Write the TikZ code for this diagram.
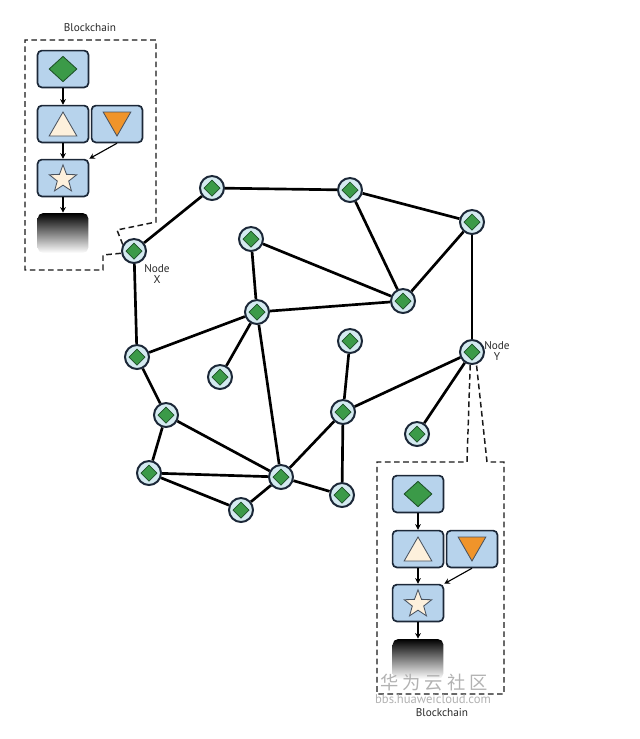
\documentclass[tikz,border=0pt]{standalone}
\usepackage{fontspec}
\setmainfont{PT Sans}
\newfontfamily\cjkfont{Noto Sans CJK SC}
\usepackage{tikz}
\usetikzlibrary{shapes.geometric, arrows.meta}
\definecolor{blockblue}{RGB}{183, 211, 236}
\definecolor{navyline}{RGB}{28, 40, 56}
\definecolor{peerfill}{RGB}{212, 234, 240}
\definecolor{gemgreen}{RGB}{59, 154, 72}
\definecolor{gemdark}{RGB}{30, 80, 40}
\definecolor{creamfill}{RGB}{253, 240, 220}
\definecolor{orangefill}{RGB}{240, 148, 42}
\definecolor{markgray}{RGB}{178, 178, 178}
\definecolor{labelgray}{RGB}{40, 40, 40}

\begin{document}
\begin{tikzpicture}[
    x=0.025cm, y=-0.025cm,
    peer/.style={circle, draw=navyline, line width=1.4pt, fill=peerfill, minimum size=0.6cm, inner sep=0pt,
        path picture={\draw[gemdark, line width=0.5pt, fill=gemgreen] (path picture bounding box.center) +(0.2cm,0) -- +(0,0.2cm) -- +(-0.2cm,0) -- +(0,-0.2cm) -- cycle;}},
    link/.style={line width=1.9pt, black},
    callout/.style={dashed, dash pattern=on 4pt off 2.5pt, line width=1.05pt, black!90},
    block/.style={rectangle, rounded corners=3pt, draw=navyline, line width=1.2pt, fill=blockblue, minimum width=1.27cm, minimum height=0.92cm, inner sep=0pt},
    tailbox/.style={rectangle, rounded corners=4pt, minimum width=1.27cm, minimum height=1cm, top color=black, bottom color=white, inner sep=0pt},
    gem/.style={diamond, draw=gemdark, line width=0.6pt, fill=gemgreen, minimum width=0.7cm, minimum height=0.64cm, inner sep=0pt},
    uptri/.style={regular polygon, regular polygon sides=3, draw=navyline!80, line width=0.6pt, fill=creamfill, minimum size=0.8cm, inner sep=0pt},
    downtri/.style={regular polygon, regular polygon sides=3, shape border rotate=180, draw=navyline!80, line width=0.6pt, fill=orangefill, minimum size=0.8cm, inner sep=0pt},
    startok/.style={star, star points=5, star point ratio=2.4, draw=navyline!80, line width=0.6pt, fill=creamfill, minimum size=0.72cm, inner sep=0pt},
    arrow/.style={-{Stealth[length=4pt, width=4pt]}, line width=0.8pt, black},
    tag/.style={font=\fontsize{8}{8.5}\selectfont, text=labelgray, align=center, inner sep=0pt}
]
\useasboundingbox (0,0) rectangle (640,739);

% Peer network
\node[peer] (p1) at (212,188) {};
\node[peer] (p2) at (350,190) {};
\node[peer] (p3) at (472,222) {};
\node[peer] (nodex) at (134,251) {};
\node[peer] (p4) at (251,239) {};
\node[peer] (p5) at (403,301) {};
\node[peer] (p6) at (257,312) {};
\node[peer] (p9) at (350,341) {};
\node[peer] (nodey) at (472,352) {};
\node[peer] (p7) at (137,357) {};
\node[peer] (p8) at (220,377) {};
\node[peer] (p11) at (343,412) {};
\node[peer] (p10) at (166,415) {};
\node[peer] (p16) at (417,434) {};
\node[peer] (p12) at (149,473) {};
\node[peer] (p13) at (281,477) {};
\node[peer] (p14) at (342,495) {};
\node[peer] (p15) at (241,510) {};

\node[tag] (xlabel) at (157,274) {Node\\X};
\node[tag] (ylabel) at (497,351) {Node\\Y};

% Links
\draw[link] (p1) -- (p2);
\draw[link] (p1) -- (nodex);
\draw[link] (p2) -- (p3);
\draw[link] (p2) -- (p5);
\draw[link] (p3) -- (p5);
\draw[link] (p3) -- (nodey);
\draw[link] (p4) -- (p5);
\draw[link] (p4) -- (p6);
\draw[link] (nodex) -- (p7);
\draw[link] (p7) -- (p6);
\draw[link] (p6) -- (p8);
\draw[link] (p6) -- (p5);
\draw[link] (p6) -- (p13);
\draw[link] (p7) -- (p10);
\draw[link] (p10) -- (p13);
\draw[link] (p10) -- (p12);
\draw[link] (p12) -- (p13);
\draw[link] (p12) -- (p15);
\draw[link] (p15) -- (p13);
\draw[link] (p13) -- (p11);
\draw[link] (p11) -- (p9);
\draw[link] (p11) -- (nodey);
\draw[link] (p11) -- (p14);
\draw[link] (p13) -- (p14);
\draw[link] (nodey) -- (p16);

% Blockchain of Node X
\node[block] (gemA) at (63,69) {};
\node[gem] at (gemA) {};
\node[block] (triA) at (63,124) {};
\node[uptri] at ([yshift=-0.1cm]triA.center) {};
\node[block] (dropA) at (117,124) {};
\node[downtri] at ([yshift=0.1cm]dropA.center) {};
\node[block] (starA) at (63,178) {};
\node[startok] at ([yshift=-0.03cm]starA.center) {};
\node[tailbox] (tailA) at (63,233) {};
\draw[arrow] (gemA) -- (triA);
\draw[arrow] (triA) -- (starA);
\draw[arrow] (dropA.south) -- (starA.north east);
\draw[arrow] (starA) -- (tailA);
\draw[callout] (nodex.150) -- (117,230) -- (156,222) -- (156,40) -- (25,40) -- (25,270) -- (103,270) -- (103,255) -- (nodex.190);
\node[tag] (titleA) at (90,28) {Blockchain};

% Blockchain of Node Y
\node[block] (gemB) at (418,494) {};
\node[gem] at (gemB) {};
\node[block] (triB) at (418,549) {};
\node[uptri] at ([yshift=-0.1cm]triB.center) {};
\node[block] (dropB) at (472,549) {};
\node[downtri] at ([yshift=0.1cm]dropB.center) {};
\node[block] (starB) at (418,603) {};
\node[startok] at ([yshift=-0.03cm]starB.center) {};
\node[tailbox] (tailB) at (418,659) {};
\draw[arrow] (gemB) -- (triB);
\draw[arrow] (triB) -- (starB);
\draw[arrow] (dropB.south) -- (starB.north east);
\draw[arrow] (starB) -- (tailB);
\draw[callout] (nodey.262) -- (467,462) -- (377,462) -- (377,694) -- (504,694) -- (504,462) -- (487,462) -- (nodey.290);

% Watermark
\node[font=\cjkfont\fontsize{13}{13}\selectfont, text=markgray, inner sep=0pt] (wmark) at (434,683) {华\ 为\ 云\ 社\ 区};
\node[font=\fontsize{9}{9}\selectfont, text=markgray, inner sep=0pt] (wurl) at (433,699) {bbs.huaweicloud.com};
\node[tag] (titleB) at (442,713) {Blockchain};
\end{tikzpicture}
\end{document}
